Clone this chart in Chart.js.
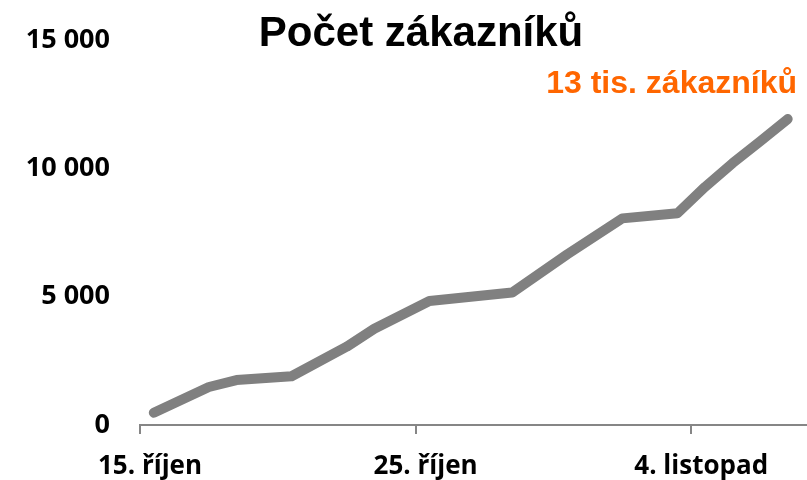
<!DOCTYPE html>
<html lang="cs">
<head>
<meta charset="utf-8">
<title>Počet zákazníků</title>
<script src="https://cdn.jsdelivr.net/npm/chart.js@4/dist/chart.umd.min.js"></script>
<style>
  html, body { margin: 0; padding: 0; background: #fff; }
  #wrap { width: 807px; height: 480px; }
</style>
</head>
<body>
<div id="wrap"><canvas id="chart" width="807" height="480"></canvas></div>
<script>
// Days counted from 15 October; each value sits in the middle of its day.
const dayIndex  = [0, 2, 3, 5, 7, 8, 10, 13, 15, 17, 19, 20, 21, 22, 23];
const customers = [480, 1480, 1750, 1900, 3050, 3750, 4830, 5160, 6650, 8050, 8250, 9275, 10200, 11050, 11920];

// Axis labelling
const xTickLabels = ['15. říjen', '25. říjen', '4. listopad'];
const yTickValues = [0, 5000, 10000, 15000];

const titleText = 'Počet zákazníků';
const calloutText = '13 tis. zákazníků';

const xLabelFont = { family: '"Open Sans", sans-serif', weight: 'bold', size: 26 };
const yLabelFont = { family: '"Open Sans", sans-serif', weight: 'bold', size: 27 };
const axisGray = '#868686';

function thousands(v) {
  return String(v).replace(/\B(?=(\d{3})+(?!\d))/g, ' ');
}

// Title and orange call-out drawn on top of the chart
const headerText = {
  id: 'headerText',
  afterDraw(chart) {
    const ctx = chart.ctx;
    ctx.save();
    ctx.fillStyle = '#000';
    ctx.font = 'bold 42px "Liberation Sans", Arial, sans-serif';
    ctx.textAlign = 'center';
    ctx.textBaseline = 'alphabetic';
    ctx.fillText(titleText, 421, 46);
    ctx.fillStyle = '#FF6600';
    ctx.font = 'bold 32px "Liberation Sans", Arial, sans-serif';
    ctx.textAlign = 'right';
    ctx.fillText(calloutText, 797, 93);
    ctx.restore();
  }
};

new Chart(document.getElementById('chart'), {
  type: 'line',
  data: {
    datasets: [{
      data: dayIndex.map((d, i) => ({ x: d + 0.5, y: customers[i] })),
      borderColor: '#808080',
      borderWidth: 10,
      borderCapStyle: 'round',
      borderJoinStyle: 'round',
      pointRadius: 0,
      tension: 0,
      fill: false
    }]
  },
  options: {
    responsive: false,
    animation: false,
    devicePixelRatio: 1,
    layout: { padding: { top: 40, right: 0, bottom: 0, left: 0 } },
    plugins: {
      legend: { display: false },
      tooltip: { enabled: false },
      title: { display: false }
    },
    scales: {
      x: {
        type: 'linear',
        min: 0,
        max: 24.2,
        grid: { drawOnChartArea: false, drawTicks: true, tickLength: 9, color: axisGray, lineWidth: 2 },
        border: { display: true, color: axisGray, width: 2 },
        ticks: {
          stepSize: 10,
          includeBounds: false,
          autoSkip: false,
          maxRotation: 0,
          padding: 17,
          labelOffset: 10,
          color: '#000',
          font: xLabelFont,
          callback: (v, i) => xTickLabels[i]
        },
        afterFit: s => { s.height = 55; }
      },
      y: {
        min: yTickValues[0],
        max: yTickValues[yTickValues.length - 1],
        grid: { display: false, drawTicks: false },
        border: { display: false },
        afterBuildTicks: s => { s.ticks = yTickValues.map(v => ({ value: v })); },
        ticks: {
          padding: 30,
          color: '#000',
          font: yLabelFont,
          callback: v => thousands(v)
        },
        afterFit: s => {
          s.width = 140;
          s.paddingTop = 0;
          s.paddingBottom = 0;
        }
      }
    }
  },
  plugins: [headerText]
});
</script>
</body>
</html>
